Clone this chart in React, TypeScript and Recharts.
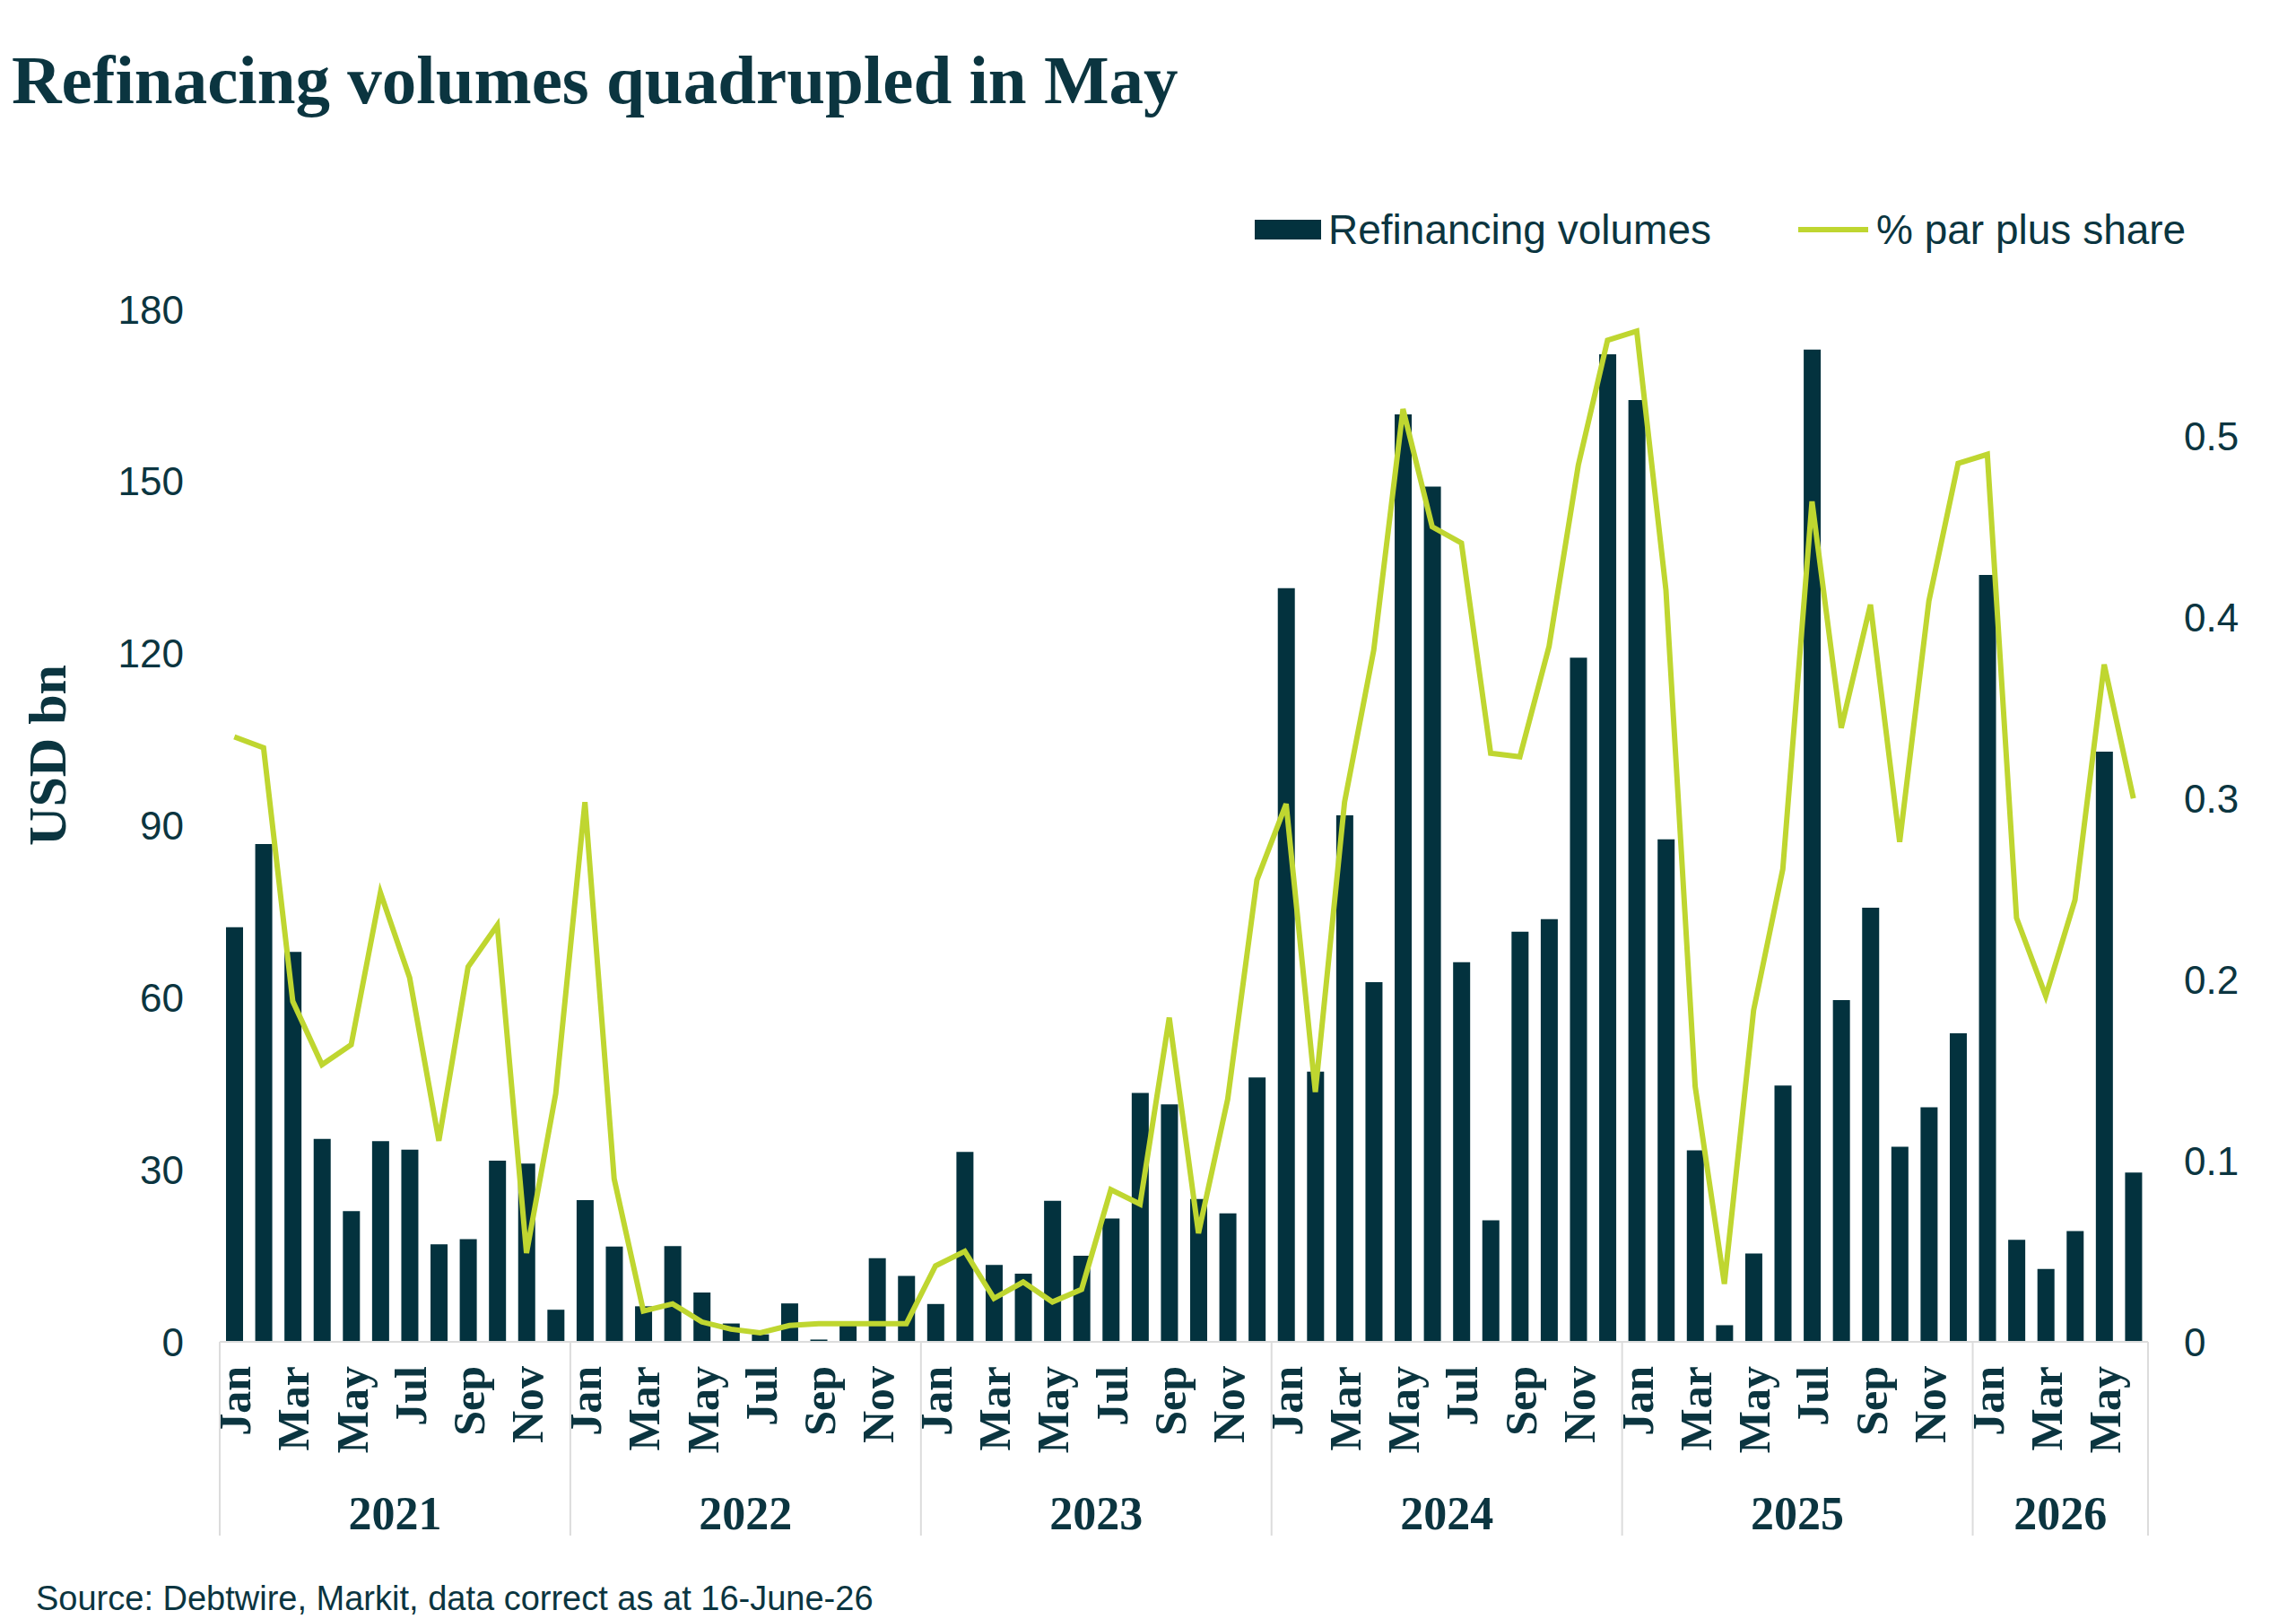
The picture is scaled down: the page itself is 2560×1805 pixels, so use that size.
import { Bar, ComposedChart, Legend, Line, XAxis, YAxis } from "recharts"

// categories: Jan 2021 .. Jun 2026
const years = ["2021", "2022", "2023", "2024", "2025", "2026"]
const monthsInYear = [12, 12, 12, 12, 12, 6]
const monthNames = ["Jan", "Feb", "Mar", "Apr", "May", "Jun", "Jul", "Aug", "Sep", "Oct", "Nov", "Dec"]

// Refinancing volumes, USD bn
const volumes = [
  72.3, 86.8, 68.0, 35.4, 22.8, 35.0, 33.5, 17.0, 17.9, 31.6, 31.1, 5.6,
  24.7, 16.6, 6.2, 16.7, 8.6, 3.2, 1.3, 6.7, 0.4, 3.0, 14.6, 11.5,
  6.6, 33.1, 13.4, 11.9, 24.6, 15.0, 21.5, 43.4, 41.4, 24.9, 22.4, 46.1,
  131.4, 47.1, 91.8, 62.7, 161.7, 149.1, 66.2, 21.2, 71.5, 73.7, 119.3, 172.2,
  164.2, 87.6, 33.4, 2.9, 15.4, 44.7, 173.0, 59.6, 75.7, 34.0, 40.9, 53.8,
  133.7, 17.8, 12.7, 19.3, 102.9, 29.5,
]

// % par plus share (right axis)
const parPlusShare = [
  0.334, 0.328, 0.188, 0.153, 0.164, 0.248, 0.201, 0.111, 0.207, 0.23, 0.049, 0.137,
  0.298, 0.09, 0.017, 0.021, 0.011, 0.007, 0.005, 0.009, 0.01, 0.01, 0.01, 0.01,
  0.042, 0.05, 0.024, 0.033, 0.022, 0.029, 0.084, 0.076, 0.179, 0.06, 0.134, 0.255,
  0.297, 0.138, 0.298, 0.382, 0.515, 0.45, 0.441, 0.325, 0.323, 0.384, 0.484, 0.553,
  0.558, 0.415, 0.141, 0.032, 0.183, 0.261, 0.464, 0.339, 0.407, 0.276, 0.409, 0.485,
  0.49, 0.234, 0.191, 0.244, 0.374, 0.3,
]

const leftTicks = [0, 30, 60, 90, 120, 150, 180]
const rightTicks = [0, 0.1, 0.2, 0.3, 0.4, 0.5]

const categories = years.flatMap((yr, i) => monthNames.slice(0, monthsInYear[i]).map((m) => `${m} ${yr}`))

const data = categories.map((month, i) => ({
  month,
  volume: volumes[i],
  share: parPlusShare[i],
}))

const TEXT = "#0b3540"
const BAR = "#03323e"
const LINE = "#bfd630"
const GRID = "#dcdcdc"
const SANS = "'Liberation Sans', Arial, sans-serif"
const SERIF = "'Liberation Serif', 'Times New Roman', serif"

const W = 2560
const H = 1805
const LEFT_W = 245
const RIGHT_W = 165
const TOP = 345
const XAXIS_H = 309
const BAND = (W - LEFT_W - RIGHT_W) / categories.length

const MonthTick = (props: any) => {
  const { x, y, index } = props
  const [m, yr] = categories[index].split(" ")
  const yi = years.indexOf(yr)
  const isJan = m === "Jan"
  const isLast = index === categories.length - 1
  return (
    <g>
      {index % 2 === 0 && (
        <text
          transform={`translate(${x},${y + 27}) rotate(-90)`}
          textAnchor="end"
          dy="0.36em"
          fill={TEXT}
          fontFamily={SERIF}
          fontWeight="bold"
          fontSize={50}
        >
          {m}
        </text>
      )}
      {isJan && (
        <line x1={x - BAND / 2} x2={x - BAND / 2} y1={y} y2={y + 216} stroke={GRID} strokeWidth={2} />
      )}
      {isJan && (
        <text
          x={x - BAND / 2 + (BAND * monthsInYear[yi]) / 2}
          y={y + 191}
          dy="0.35em"
          textAnchor="middle"
          fill={TEXT}
          fontFamily={SERIF}
          fontWeight="bold"
          fontSize={52}
        >
          {yr}
        </text>
      )}
      {isLast && (
        <line x1={x + BAND / 2} x2={x + BAND / 2} y1={y} y2={y + 216} stroke={GRID} strokeWidth={2} />
      )}
    </g>
  )
}

const renderLegend = (props: any) => {
  const items = [...(props.payload ?? [])].sort((a: any, b: any) => (a.type === "line" ? 1 : 0) - (b.type === "line" ? 1 : 0))
  return (
    <div style={{ display: "flex", alignItems: "center", fontFamily: SANS, fontSize: 46, color: TEXT, lineHeight: 1 }}>
      {items.map((it: any, i: number) => (
        <div key={i} style={{ display: "flex", alignItems: "center", marginLeft: i ? 97 : 0 }}>
          {it.type === "line" ? (
            <div style={{ width: 78, height: 6, background: LINE, marginRight: 9 }} />
          ) : (
            <div style={{ width: 74, height: 22, background: BAR, marginRight: 8 }} />
          )}
          <span>{it.value}</span>
        </div>
      ))}
    </div>
  )
}

const renderUsdLabel = () => (
  <text
    x={52}
    y={842}
    transform="rotate(-90 52 842)"
    textAnchor="middle"
    dy="0.35em"
    fill={TEXT}
    fontFamily={SERIF}
    fontWeight="bold"
    fontSize={60}
  >
    USD bn
  </text>
)

const App = () => {
  return (
    <div style={{ position: "relative", width: W, height: H, background: "#fff", overflow: "hidden" }}>
      <style>{"body{margin:0}"}</style>
      <div
        style={{
          position: "absolute",
          left: 13,
          top: 51,
          fontFamily: SERIF,
          fontWeight: "bold",
          fontSize: 77,
          lineHeight: 1,
          color: TEXT,
          whiteSpace: "nowrap",
        }}
      >
        Refinacing volumes quadrupled in May
      </div>

      <ComposedChart width={W} height={H} data={data} margin={{ top: TOP, right: 0, bottom: 0, left: 0 }}>
        <XAxis
          dataKey="month"
          interval={0}
          height={XAXIS_H}
          tickLine={false}
          tickSize={0}
          tickMargin={0}
          axisLine={{ stroke: GRID, strokeWidth: 2 }}
          tick={(p: any) => <MonthTick {...p} />}
        />
        <YAxis
          yAxisId="left"
          width={LEFT_W}
          domain={[0, 180]}
          ticks={leftTicks}
          interval={0}
          axisLine={false}
          tickLine={false}
          tickSize={0}
          tickMargin={40}
          tick={{ fill: TEXT, fontSize: 44, fontFamily: SANS }}
          label={renderUsdLabel}
        />
        <YAxis
          yAxisId="right"
          orientation="right"
          width={RIGHT_W}
          domain={[0, 0.57]}
          ticks={rightTicks}
          interval={0}
          axisLine={false}
          tickLine={false}
          tickSize={0}
          tickMargin={40}
          tick={{ fill: TEXT, fontSize: 44, fontFamily: SANS }}
        />
        <Legend
          layout="horizontal"
          verticalAlign="middle"
          align="center"
          wrapperStyle={{ top: 233, left: 1399, width: 1150, height: 50 }}
          content={renderLegend}
        />
        <Bar
          yAxisId="left"
          dataKey="volume"
          name="Refinancing volumes"
          fill={BAR}
          barSize={19}
          isAnimationActive={false}
        />
        <Line
          yAxisId="right"
          dataKey="share"
          name="% par plus share"
          type="linear"
          stroke={LINE}
          strokeWidth={6}
          dot={false}
          activeDot={false}
          isAnimationActive={false}
        />
      </ComposedChart>

      <div
        style={{
          position: "absolute",
          left: 40,
          top: 1763,
          fontFamily: SANS,
          fontSize: 38,
          lineHeight: 1,
          color: TEXT,
          whiteSpace: "nowrap",
        }}
      >
        Source: Debtwire, Markit, data correct as at 16-June-26
      </div>
    </div>
  )
}

export default App
